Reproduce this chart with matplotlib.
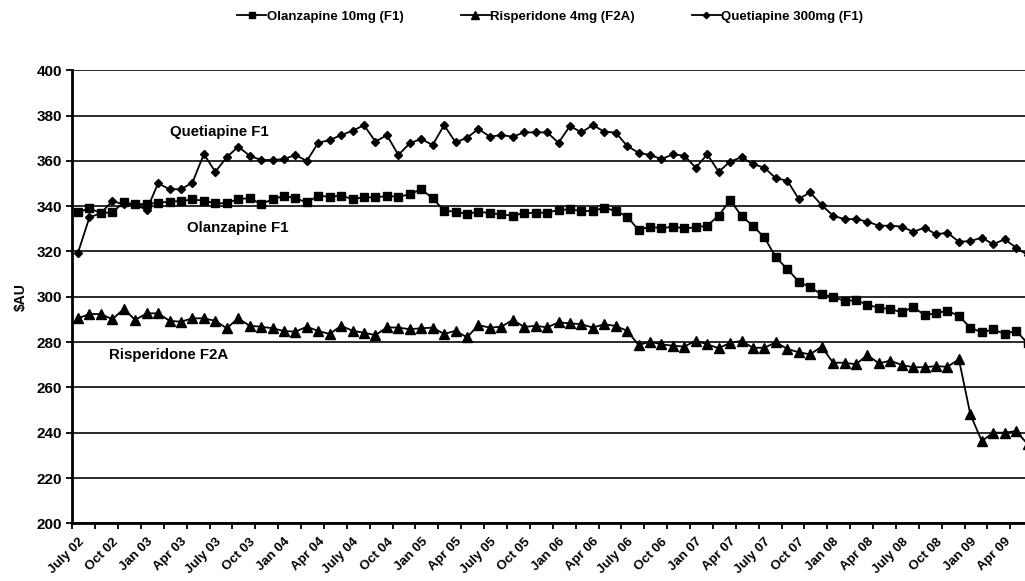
import matplotlib
matplotlib.use("Agg")
import matplotlib.pyplot as plt
from matplotlib.ticker import FixedLocator

plt.rcParams['font.family'] = ['Liberation Sans', 'DejaVu Sans']
plt.rcParams['font.weight'] = 'bold'

# monthly series, July 2002 onwards (last point falls just past the right edge)
olanzapine = [337.3, 339.1, 336.9, 337.3, 341.7, 340.8, 341.0, 341.5, 342.0, 342.3,
              343.0, 342.4, 341.3, 341.3, 343.2, 343.5, 341.0, 343.0, 344.6, 343.5,
              341.7, 344.6, 344.2, 344.6, 343.2, 343.9, 343.9, 344.5, 344.2, 345.2,
              347.5, 343.5, 338.0, 337.6, 336.6, 337.6, 336.9, 336.4, 335.8, 337.0,
              337.0, 337.2, 338.3, 338.6, 337.9, 337.9, 339.3, 337.9, 335.4, 329.5,
              331.0, 330.2, 331.0, 330.2, 330.7, 331.4, 335.8, 342.7, 335.7, 331.3,
              326.2, 317.4, 312.3, 306.7, 304.2, 301.1, 300.0, 298.1, 298.6, 296.4,
              295.2, 294.6, 293.2, 295.4, 292.0, 292.7, 293.9, 291.5, 286.4, 284.3,
              285.6, 283.6, 285.0, 279.5]
risperidone = [290.5, 292.4, 292.4, 290.1, 294.6, 289.8, 292.7, 292.7, 289.4, 289.0,
               290.5, 290.5, 289.4, 286.1, 290.5, 287.2, 286.8, 286.1, 284.9, 284.6,
               286.8, 284.9, 283.6, 287.2, 285.0, 284.1, 283.1, 286.5, 286.4, 285.7,
               286.1, 286.4, 283.6, 285.0, 282.1, 287.5, 286.4, 286.8, 289.8, 286.7,
               287.2, 286.5, 288.7, 288.3, 287.9, 286.4, 287.9, 287.1, 285.0, 278.7,
               280.2, 279.0, 278.4, 278.0, 280.6, 279.0, 277.3, 279.7, 280.5, 277.5,
               277.5, 279.9, 277.0, 275.5, 274.6, 278.0, 270.9, 270.9, 270.2, 274.3,
               270.6, 271.8, 269.9, 268.9, 268.9, 269.4, 269.1, 272.4, 248.1, 236.3,
               240.0, 240.0, 240.7, 235.0]
quetiapine = [319.5, 335.1, 336.9, 342.3, 340.8, 340.8, 338.3, 350.1, 347.5, 347.5,
              350.4, 363.0, 355.2, 361.6, 366.3, 362.3, 360.4, 360.4, 360.8, 362.6,
              360.0, 368.0, 369.2, 371.4, 373.3, 375.8, 368.5, 371.4, 362.6, 367.8,
              369.7, 367.0, 375.8, 368.2, 370.2, 374.1, 370.7, 371.4, 370.7, 372.6,
              372.6, 372.6, 368.0, 375.4, 372.6, 375.8, 372.9, 372.5, 366.6, 363.6,
              362.6, 360.8, 362.9, 362.3, 357.0, 362.9, 355.2, 359.7, 361.6, 358.6,
              357.0, 352.3, 351.3, 343.2, 346.1, 340.5, 335.8, 334.3, 334.3, 333.2,
              331.4, 331.4, 331.0, 328.7, 330.5, 327.6, 328.3, 324.3, 324.6, 326.1,
              323.2, 325.4, 321.7, 318.5]

tick_labels = ['July 02', 'Oct 02', 'Jan 03', 'Apr 03', 'July 03', 'Oct 03', 'Jan 04',
               'Apr 04', 'July 04', 'Oct 04', 'Jan 05', 'Apr 05', 'July 05', 'Oct 05',
               'Jan 06', 'Apr 06', 'July 06', 'Oct 06', 'Jan 07', 'Apr 07', 'July 07',
               'Oct 07', 'Jan 08', 'Apr 08', 'July 08', 'Oct 08', 'Jan 09', 'Apr 09']

x = list(range(len(olanzapine)))

fig = plt.figure(figsize=(10.25, 5.81), dpi=100)
ax = fig.add_axes([72.3 / 1025, 57.7 / 581, (1025 - 72.3) / 1025, 453 / 581])

ax.set_ylim(200, 400)
ax.set_xlim(-0.5, -0.5 + (1025 - 72.3) / 11.44)
ax.set_yticks(range(200, 401, 20))
ax.yaxis.grid(True, color='#1a1a1a', lw=1.3)
ax.set_axisbelow(True)

kw = dict(color='black', lw=1.3)
ax.plot(x, olanzapine, marker='s', ms=5.8, label='Olanzapine 10mg (F1)', **kw)
ax.plot(x, risperidone, marker='^', ms=6.5, label='Risperidone 4mg (F2A)', **kw)
ax.plot(x, quetiapine, marker='D', ms=3.8, label='Quetiapine 300mg (F1)', **kw)

for s in ['top', 'right']:
    ax.spines[s].set_visible(False)
for s in ['left', 'bottom']:
    ax.spines[s].set_linewidth(2)

# labels every 3 months, tick marks every 2 months between categories
ax.set_xticks([3 * i for i in range(len(tick_labels))])
ax.set_xticklabels(tick_labels, rotation=45, ha='right', rotation_mode='anchor',
                   fontsize=9.5, fontweight='bold')
ax.xaxis.set_minor_locator(FixedLocator([i - 0.5 for i in range(0, 84, 2)]))
ax.tick_params(axis='x', which='major', length=0, pad=9)
ax.tick_params(axis='x', which='minor', length=4, width=1.3)
ax.tick_params(axis='y', length=4, width=1.3, labelsize=11)
for t in ax.get_yticklabels():
    t.set_fontweight('bold')

ax.set_ylabel('$AU', fontsize=10, fontweight='bold', labelpad=6)

ax.text(12.37, 372.8, 'Quetiapine F1', ha='center', va='center', fontsize=10.8, fontweight='bold')
ax.text(14.0, 330.5, 'Olanzapine F1', ha='center', va='center', fontsize=10.8, fontweight='bold')
ax.text(7.95, 274.3, 'Risperidone F2A', ha='center', va='center', fontsize=10.8, fontweight='bold')

fig.legend(loc='center', bbox_to_anchor=(0.537, 0.971), ncol=3, frameon=False,
           prop={'size': 9.5, 'weight': 'bold'}, handlelength=2.2, handletextpad=0.05,
           columnspacing=4.3, markerscale=0.85)

fig.savefig('out.png', dpi=100)
